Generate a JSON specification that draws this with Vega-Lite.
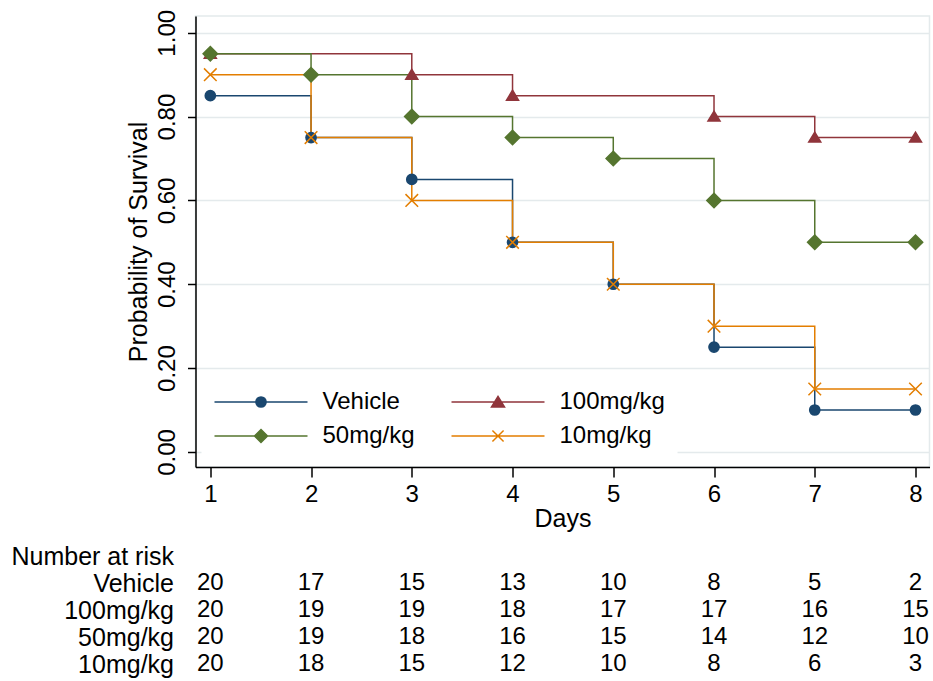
{
  "$schema": "https://vega.github.io/schema/vega-lite/v6.json",
  "background": "white",
  "padding": {"left": 10.5, "top": 8, "right": 3, "bottom": 5},
  "config": {
    "font": "Liberation Sans",
    "axis": {"labelColor": "#000", "titleColor": "#000", "titleFontWeight": "normal"},
    "legend": {"labelColor": "#000"}
  },
  "datasets": {
    "surv": [
      {"group": "Vehicle", "day": 1, "surv": 0.85, "marked": true},
      {"group": "Vehicle", "day": 2, "surv": 0.75, "marked": true},
      {"group": "Vehicle", "day": 3, "surv": 0.65, "marked": true},
      {"group": "Vehicle", "day": 4, "surv": 0.50, "marked": true},
      {"group": "Vehicle", "day": 5, "surv": 0.40, "marked": true},
      {"group": "Vehicle", "day": 6, "surv": 0.25, "marked": true},
      {"group": "Vehicle", "day": 7, "surv": 0.10, "marked": true},
      {"group": "Vehicle", "day": 8, "surv": 0.10, "marked": true},
      {"group": "100mg/kg", "day": 1, "surv": 0.95, "marked": true},
      {"group": "100mg/kg", "day": 2, "surv": 0.95, "marked": false},
      {"group": "100mg/kg", "day": 3, "surv": 0.90, "marked": true},
      {"group": "100mg/kg", "day": 4, "surv": 0.85, "marked": true},
      {"group": "100mg/kg", "day": 5, "surv": 0.85, "marked": false},
      {"group": "100mg/kg", "day": 6, "surv": 0.80, "marked": true},
      {"group": "100mg/kg", "day": 7, "surv": 0.75, "marked": true},
      {"group": "100mg/kg", "day": 8, "surv": 0.75, "marked": true},
      {"group": "50mg/kg", "day": 1, "surv": 0.95, "marked": true},
      {"group": "50mg/kg", "day": 2, "surv": 0.90, "marked": true},
      {"group": "50mg/kg", "day": 3, "surv": 0.80, "marked": true},
      {"group": "50mg/kg", "day": 4, "surv": 0.75, "marked": true},
      {"group": "50mg/kg", "day": 5, "surv": 0.70, "marked": true},
      {"group": "50mg/kg", "day": 6, "surv": 0.60, "marked": true},
      {"group": "50mg/kg", "day": 7, "surv": 0.50, "marked": true},
      {"group": "50mg/kg", "day": 8, "surv": 0.50, "marked": true},
      {"group": "10mg/kg", "day": 1, "surv": 0.90, "marked": true},
      {"group": "10mg/kg", "day": 2, "surv": 0.75, "marked": true},
      {"group": "10mg/kg", "day": 3, "surv": 0.60, "marked": true},
      {"group": "10mg/kg", "day": 4, "surv": 0.50, "marked": true},
      {"group": "10mg/kg", "day": 5, "surv": 0.40, "marked": true},
      {"group": "10mg/kg", "day": 6, "surv": 0.30, "marked": true},
      {"group": "10mg/kg", "day": 7, "surv": 0.15, "marked": true},
      {"group": "10mg/kg", "day": 8, "surv": 0.15, "marked": true}
    ],
    "risk": [
      {"group": "Vehicle", "day": 1, "n": 20}, {"group": "Vehicle", "day": 2, "n": 17}, {"group": "Vehicle", "day": 3, "n": 15}, {"group": "Vehicle", "day": 4, "n": 13},
      {"group": "Vehicle", "day": 5, "n": 10}, {"group": "Vehicle", "day": 6, "n": 8}, {"group": "Vehicle", "day": 7, "n": 5}, {"group": "Vehicle", "day": 8, "n": 2},
      {"group": "100mg/kg", "day": 1, "n": 20}, {"group": "100mg/kg", "day": 2, "n": 19}, {"group": "100mg/kg", "day": 3, "n": 19}, {"group": "100mg/kg", "day": 4, "n": 18},
      {"group": "100mg/kg", "day": 5, "n": 17}, {"group": "100mg/kg", "day": 6, "n": 17}, {"group": "100mg/kg", "day": 7, "n": 16}, {"group": "100mg/kg", "day": 8, "n": 15},
      {"group": "50mg/kg", "day": 1, "n": 20}, {"group": "50mg/kg", "day": 2, "n": 19}, {"group": "50mg/kg", "day": 3, "n": 18}, {"group": "50mg/kg", "day": 4, "n": 16},
      {"group": "50mg/kg", "day": 5, "n": 15}, {"group": "50mg/kg", "day": 6, "n": 14}, {"group": "50mg/kg", "day": 7, "n": 12}, {"group": "50mg/kg", "day": 8, "n": 10},
      {"group": "10mg/kg", "day": 1, "n": 20}, {"group": "10mg/kg", "day": 2, "n": 18}, {"group": "10mg/kg", "day": 3, "n": 15}, {"group": "10mg/kg", "day": 4, "n": 12},
      {"group": "10mg/kg", "day": 5, "n": 10}, {"group": "10mg/kg", "day": 6, "n": 8}, {"group": "10mg/kg", "day": 7, "n": 6}, {"group": "10mg/kg", "day": 8, "n": 3}
    ]
  },
  "bounds": "flush",
  "spacing": 75.5,
  "resolve": {"scale": {"x": "independent", "y": "independent"}},
  "vconcat": [
    {
      "width": 734,
      "height": 451,
      "view": {"stroke": "#e4eaec", "strokeWidth": 1.5},
      "data": {"name": "surv"},
      "encoding": {
        "x": {
          "field": "day", "type": "quantitative",
          "scale": {"domain": [0.853, 8.139], "nice": false, "zero": false},
          "axis": {
            "title": "Days", "values": [1, 2, 3, 4, 5, 6, 7, 8], "format": "d",
            "grid": false, "domainColor": "#000", "domainWidth": 1.5, "tickColor": "#000", "tickWidth": 1.5, "tickSize": 10,
            "labelFontSize": 24, "labelPadding": 5, "titleFontSize": 25, "titlePadding": 0
          }
        },
        "y": {
          "field": "surv", "type": "quantitative",
          "scale": {"domain": [-0.036, 1.04], "nice": false, "zero": false},
          "axis": {
            "title": "Probability of Survival", "values": [0, 0.2, 0.4, 0.6, 0.8, 1], "format": ".2f",
            "grid": true, "gridColor": "#e4eaec", "gridWidth": 1.5,
            "domainColor": "#000", "domainWidth": 1.5, "tickColor": "#000", "tickWidth": 1.5, "tickSize": 8,
            "labelFontSize": 24, "labelAngle": 270, "labelAlign": "center", "labelBaseline": "bottom", "labelPadding": 8,
            "titleFontSize": 25, "titlePadding": 4
          }
        }
      },
      "layer": [
        {
          "mark": {"type": "line", "interpolate": "step-after", "strokeWidth": 1.5},
          "encoding": {
            "color": {
              "field": "group", "type": "nominal",
              "scale": {"domain": ["Vehicle", "100mg/kg", "50mg/kg", "10mg/kg"], "range": ["#1a476f", "#90353b", "#55752f", "#e37e00"]},
              "legend": {
                "title": null, "orient": "none", "legendX": 6, "legendY": 362, "direction": "horizontal", "columns": 2,
                "columnPadding": 35, "rowPadding": 10, "padding": 12, "fillColor": "white", "clipHeight": 24,
                "symbolSize": 8649, "symbolStrokeWidth": 1.5, "labelFontSize": 24, "labelOffset": 14, "labelLimit": 300,
                "encode": {
                  "symbols": {
                    "update": {
                      "shape": {"signal": "datum.value === 'Vehicle' ? 'M-1,0L1,0M0.11,0A0.11,0.11 0 1,1 -0.11,0A0.11,0.11 0 1,1 0.11,0Z' : datum.value === '100mg/kg' ? 'M-1,0L1,0M0,-0.12L0.14,0.11L-0.14,0.11Z' : datum.value === '50mg/kg' ? 'M-1,0L1,0M0,-0.14L0.14,0L0,0.14L-0.14,0Z' : 'M-1,0L1,0M-0.12,-0.12L0.12,0.12M-0.12,0.12L0.12,-0.12'"},
                      "fill": {"signal": "datum.value === 'Vehicle' ? '#1a476f' : datum.value === '100mg/kg' ? '#90353b' : datum.value === '50mg/kg' ? '#55752f' : 'transparent'"},
                      "stroke": {"signal": "datum.value === 'Vehicle' ? '#1a476f' : datum.value === '100mg/kg' ? '#90353b' : datum.value === '50mg/kg' ? '#55752f' : '#e37e00'"},
                      "opacity": {"value": 1}
                    }
                  }
                }
              }
            }
          }
        },
        {
          "transform": [{"filter": "datum.marked && datum.group === 'Vehicle'"}],
          "mark": {"type": "point", "shape": "M0.85,0A0.85,0.85 0 1,1 -0.85,0A0.85,0.85 0 1,1 0.85,0Z", "size": 144, "strokeWidth": 1.5, "opacity": 1, "fill": "#1a476f", "stroke": "#1a476f", "filled": true},
          "encoding": {}
        },
        {
          "transform": [{"filter": "datum.marked && datum.group === '100mg/kg'"}],
          "mark": {"type": "point", "shape": "M0,-0.9L1,0.75L-1,0.75Z", "size": 144, "strokeWidth": 1.5, "opacity": 1, "fill": "#90353b", "stroke": "#90353b", "filled": true},
          "encoding": {}
        },
        {
          "transform": [{"filter": "datum.marked && datum.group === '50mg/kg'"}],
          "mark": {"type": "point", "shape": "M0,-1.2L1.2,0L0,1.2L-1.2,0Z", "size": 144, "strokeWidth": 1.5, "opacity": 1, "fill": "#55752f", "stroke": "#55752f", "filled": true},
          "encoding": {}
        },
        {
          "transform": [{"filter": "datum.marked && datum.group === '10mg/kg'"}],
          "mark": {"type": "point", "shape": "M-1.05,-1.05L1.05,1.05M-1.05,1.05L1.05,-1.05", "size": 144, "strokeWidth": 1.5, "opacity": 1, "fill": "transparent", "stroke": "#e37e00", "filled": false},
          "encoding": {}
        }
      ]
    },
    {
      "width": 734,
      "height": 135,
      "view": {"stroke": null},
      "data": {"name": "risk"},
      "mark": {"type": "text", "fontSize": 24, "color": "#000", "align": "center", "baseline": "middle"},
      "encoding": {
        "x": {"field": "day", "type": "quantitative", "scale": {"domain": [0.853, 8.139], "nice": false, "zero": false}, "axis": null},
        "y": {
          "field": "group", "type": "ordinal",
          "scale": {"type": "point", "padding": 0.5, "domain": ["Number at risk", "Vehicle", "100mg/kg", "50mg/kg", "10mg/kg"]},
          "axis": {"title": null, "domain": false, "ticks": false, "grid": false, "labelFontSize": 25, "labelPadding": 22, "labelAlign": "right", "labelBaseline": "middle", "labelLimit": 400}
        },
        "text": {"field": "n", "type": "quantitative"}
      }
    }
  ]
}
